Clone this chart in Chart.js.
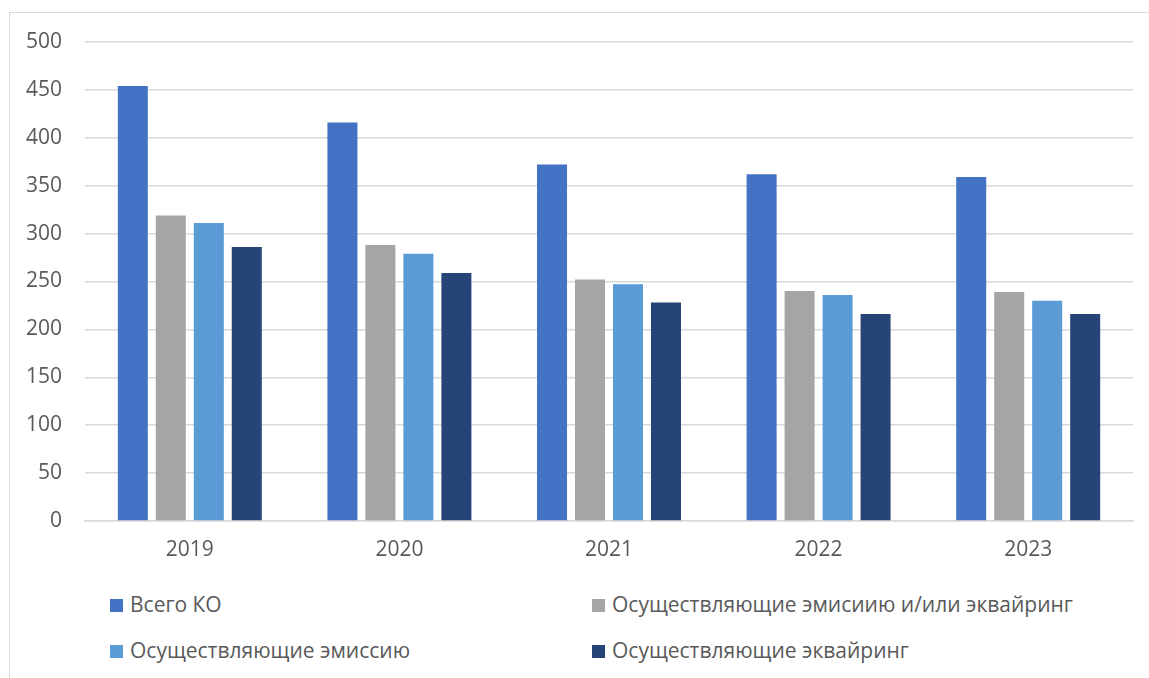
<!DOCTYPE html>
<html lang="ru">
<head>
<meta charset="UTF-8">
<title>Количество КО</title>
<script src="https://cdn.jsdelivr.net/npm/chart.js"></script>
<style>
    body { margin: 0; background: #fff; font-family: "Open Sans", sans-serif; }
    .wrap { position: relative; width: 1149px; height: 678px; overflow: hidden; }
    .frame { position: absolute; left: 9px; top: 12px; width: 1160px; height: 700px; border: 1.5px solid #d9d9d9; }
    .chart-box { position: absolute; left: 0; top: 0; width: 1149px; height: 578px; }
    .legend { position: absolute; font-size: 21px; color: #595959; }
    .legend span.mk { display: inline-block; width: 13px; height: 13px; margin-right: 7px; vertical-align: 0px; }
    .legend .item { position: absolute; white-space: nowrap; line-height: 24px; }
</style>
</head>
<body>
<div class="wrap">
    <div class="frame"></div>
    <div class="chart-box"><canvas id="c"></canvas></div>
    <div class="legend" id="legend"></div>
</div>
<script>
    const years = ['2019', '2020', '2021', '2022', '2023'];
    const seriesNames = ['Всего КО', 'Осуществляющие эмисиию и/или эквайринг', 'Осуществляющие эмиссию', 'Осуществляющие эквайринг'];
    const vsegoKO = [454, 416, 372, 362, 359];
    const emissOrAcq = [319, 288, 252, 240, 239];
    const emiss = [311, 279, 247, 236, 230];
    const acq = [286, 259, 228, 216, 216];
    const colors = ['#4472C4', '#A5A5A5', '#5B9BD5', '#264478'];

    const values = [vsegoKO, emissOrAcq, emiss, acq];

    // legend in two columns, order as in the picture
    const legendPos = [[110, 592], [592, 592], [110, 638], [592, 638]];
    const legend = document.getElementById('legend');
    seriesNames.forEach((name, i) => {
        const d = document.createElement('div');
        d.className = 'item';
        d.style.left = legendPos[i][0] + 'px';
        d.style.top = legendPos[i][1] + 'px';
        d.innerHTML = '<span class="mk" style="background:' + colors[i] + '"></span>' + name;
        legend.appendChild(d);
    });

    new Chart(document.getElementById('c'), {
        type: 'bar',
        data: {
            labels: years,
            datasets: seriesNames.map((name, i) => ({
                label: name,
                data: values[i],
                backgroundColor: colors[i],
                categoryPercentage: 0.725,
                barPercentage: 0.79
            }))
        },
        options: {
            responsive: true,
            maintainAspectRatio: false,
            animation: false,
            layout: { padding: { top: 42, right: 16, left: 0, bottom: 0 } },
            plugins: { legend: { display: false }, tooltip: { enabled: false } },
            scales: {
                x: {
                    grid: { display: false, drawTicks: false },
                    border: { color: '#d9d9d9', width: 1.5 },
                    ticks: { color: '#595959', font: { family: 'Open Sans', size: 21 }, padding: 16 },
                    afterFit: (s) => { s.height = 57; }
                },
                y: {
                    min: 0, max: 500,
                    ticks: { stepSize: 50, color: '#595959', font: { family: 'Open Sans', size: 21 }, padding: 23 },
                    grid: { color: '#d9d9d9', lineWidth: 1.5, drawTicks: false },
                    border: { display: false },
                    afterFit: (s) => { s.width = 85; }
                }
            }
        }
    });
</script>
</body>
</html>
